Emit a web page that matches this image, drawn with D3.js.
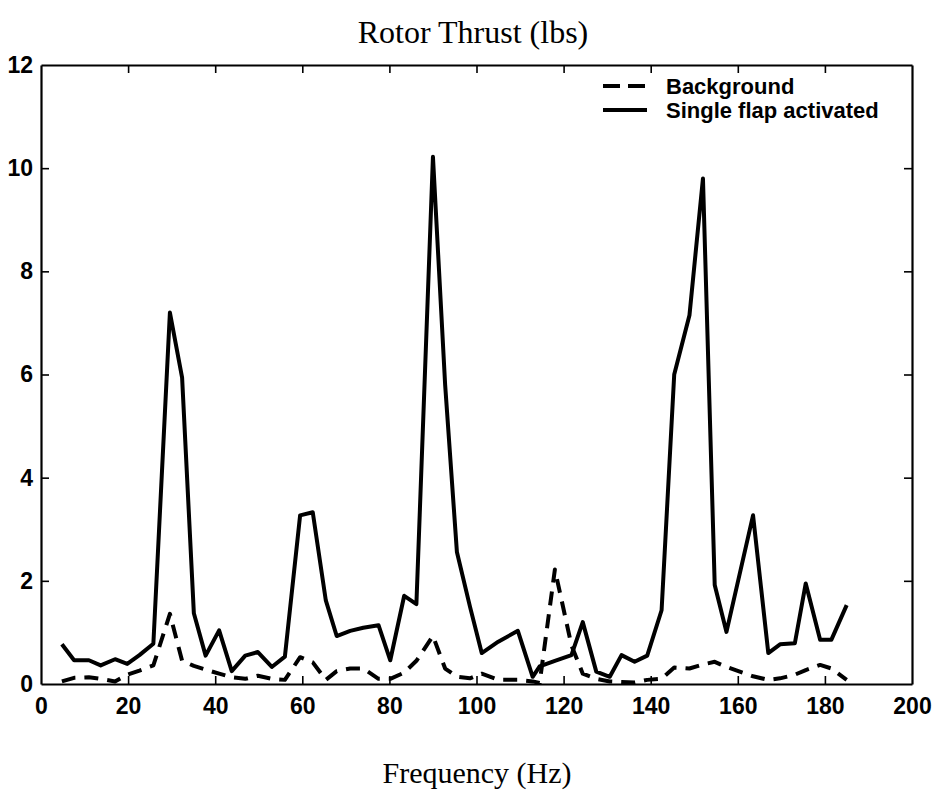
<!DOCTYPE html>
<html>
<head>
<meta charset="utf-8">
<script src="https://cdn.jsdelivr.net/npm/d3@7"></script>
<style>
  html, body { margin: 0; padding: 0; background: #fff; }
  svg { display: block; }
</style>
</head>
<body>
<svg id="chart" width="933" height="792"></svg>
<script>
// ---- Data ----
const frequency = [4.8, 7.6, 11.0, 13.7, 17.0, 19.8, 22.6, 25.8, 29.6, 32.4,
  35.1, 37.8, 40.9, 43.8, 46.9, 49.8, 53.0, 56.0, 59.5, 62.4,
  65.4, 67.9, 71.0, 74.0, 77.5, 80.2, 83.4, 86.2, 90.0, 92.8,
  95.5, 98.5, 101.2, 105.0, 109.5, 112.9, 114.5, 118.0, 121.8, 124.4,
  127.5, 130.6, 133.3, 136.3, 139.2, 142.5, 145.4, 148.9, 152.0, 154.7,
  157.4, 163.5, 167.0, 169.7, 173.1, 175.6, 178.9, 181.5, 185.0];

const singleFlap = [0.77, 0.46, 0.46, 0.36, 0.48, 0.39, 0.56, 0.78, 7.2, 5.94,
  1.37, 0.55, 1.04, 0.25, 0.55, 0.62, 0.33, 0.53, 3.27, 3.33,
  1.62, 0.93, 1.03, 1.09, 1.14, 0.46, 1.71, 1.55, 10.22, 5.8,
  2.56, 1.5, 0.6, 0.82, 1.03, 0.14, 0.34, 0.45, 0.56, 1.2,
  0.24, 0.14, 0.56, 0.43, 0.55, 1.43, 6.0, 7.15, 9.8, 1.92,
  1.01, 3.27, 0.6, 0.77, 0.79, 1.95, 0.86, 0.86, 1.53];

const background = [0.05, 0.12, 0.13, 0.1, 0.05, 0.18, 0.26, 0.36, 1.36, 0.45,
  0.35, 0.28, 0.2, 0.13, 0.1, 0.16, 0.1, 0.08, 0.52, 0.42,
  0.08, 0.25, 0.3, 0.3, 0.1, 0.1, 0.22, 0.45, 0.93, 0.3,
  0.14, 0.11, 0.2, 0.08, 0.08, 0.05, 0.02, 2.22, 0.75, 0.2,
  0.1, 0.05, 0.04, 0.03, 0.08, 0.1, 0.32, 0.3, 0.38, 0.43,
  0.33, 0.15, 0.08, 0.11, 0.18, 0.27, 0.37, 0.3, 0.08];

const xTicks = [0, 20, 40, 60, 80, 100, 120, 140, 160, 180, 200];
const yTicks = [0, 2, 4, 6, 8, 10, 12];
const seriesNames = ["Background", "Single flap activated"];
const titleText = "Rotor Thrust (lbs)";
const xLabelText = "Frequency (Hz)";

// ---- Layout ----
const svg = d3.select("#chart");
const pLeft = 41, pRight = 912, pTop = 65, pBottom = 684;
const x = d3.scaleLinear().domain([0, 200]).range([pLeft, pRight]);
const y = d3.scaleLinear().domain([0, 12]).range([pBottom, pTop]);
const tickLen = 8;
const sans = "'Liberation Sans', Arial, Helvetica, sans-serif";
const serif = "'Liberation Serif', 'Times New Roman', serif";

// Axes (ticks inward on all four sides)
const axB = svg.append("g").attr("transform", `translate(0,${pBottom})`)
  .call(d3.axisBottom(x).tickValues(xTicks).tickSizeInner(-tickLen).tickSizeOuter(0).tickPadding(14));
const axT = svg.append("g").attr("transform", `translate(0,${pTop})`)
  .call(d3.axisTop(x).tickValues(xTicks).tickSizeInner(-tickLen).tickSizeOuter(0).tickFormat(""));
const axL = svg.append("g").attr("transform", `translate(${pLeft},0)`)
  .call(d3.axisLeft(y).tickValues(yTicks).tickSizeInner(-tickLen).tickSizeOuter(0).tickPadding(8));
const axR = svg.append("g").attr("transform", `translate(${pRight},0)`)
  .call(d3.axisRight(y).tickValues(yTicks).tickSizeInner(-tickLen).tickSizeOuter(0).tickFormat(""));

[axB, axT, axL, axR].forEach(g => {
  g.select(".domain").attr("stroke", "#000").attr("stroke-width", 2.2);
  g.selectAll(".tick line").attr("stroke", "#000").attr("stroke-width", 1.6);
  g.selectAll(".tick text").attr("fill", "#000")
    .style("font-family", sans).style("font-size", "23px").style("font-weight", "bold");
});
// hide end ticks overlapping the frame
axB.selectAll(".tick line").filter(d => d === 0 || d === 200).remove();
axT.selectAll(".tick line").filter(d => d === 0 || d === 200).remove();
axL.selectAll(".tick line").filter(d => d === 0 || d === 12).remove();
axR.selectAll(".tick line").filter(d => d === 0 || d === 12).remove();

// Lines
const pts = vals => frequency.map((f, i) => [f, vals[i]]);
const line = d3.line().x(d => x(d[0])).y(d => y(d[1]));

svg.append("path").datum(pts(background))
  .attr("d", line).attr("fill", "none").attr("stroke", "#000")
  .attr("stroke-width", 4).attr("stroke-dasharray", "14,9")
  .attr("stroke-linejoin", "round");
svg.append("path").datum(pts(singleFlap))
  .attr("d", line).attr("fill", "none").attr("stroke", "#000")
  .attr("stroke-width", 4).attr("stroke-linejoin", "round");

// Legend
const leg = svg.append("g");
const legX0 = 603, legX1 = 647, legTx = 666;
const legY = [86, 110];
leg.append("line").attr("x1", legX0).attr("x2", legX1).attr("y1", legY[0]).attr("y2", legY[0])
  .attr("stroke", "#000").attr("stroke-width", 4).attr("stroke-dasharray", "17,8");
leg.append("line").attr("x1", legX0).attr("x2", legX1).attr("y1", legY[1]).attr("y2", legY[1])
  .attr("stroke", "#000").attr("stroke-width", 4);
seriesNames.forEach((n, i) => {
  leg.append("text").attr("x", legTx).attr("y", legY[i]).attr("dy", "0.35em")
    .style("font-family", sans).style("font-size", "22px").style("font-weight", "bold")
    .text(n);
});

// Titles
svg.append("text").attr("x", 473).attr("y", 43).attr("text-anchor", "middle")
  .style("font-family", serif).style("font-size", "32px").text(titleText);
svg.append("text").attr("x", 477).attr("y", 783).attr("text-anchor", "middle")
  .style("font-family", serif).style("font-size", "30px").text(xLabelText);
</script>
</body>
</html>
